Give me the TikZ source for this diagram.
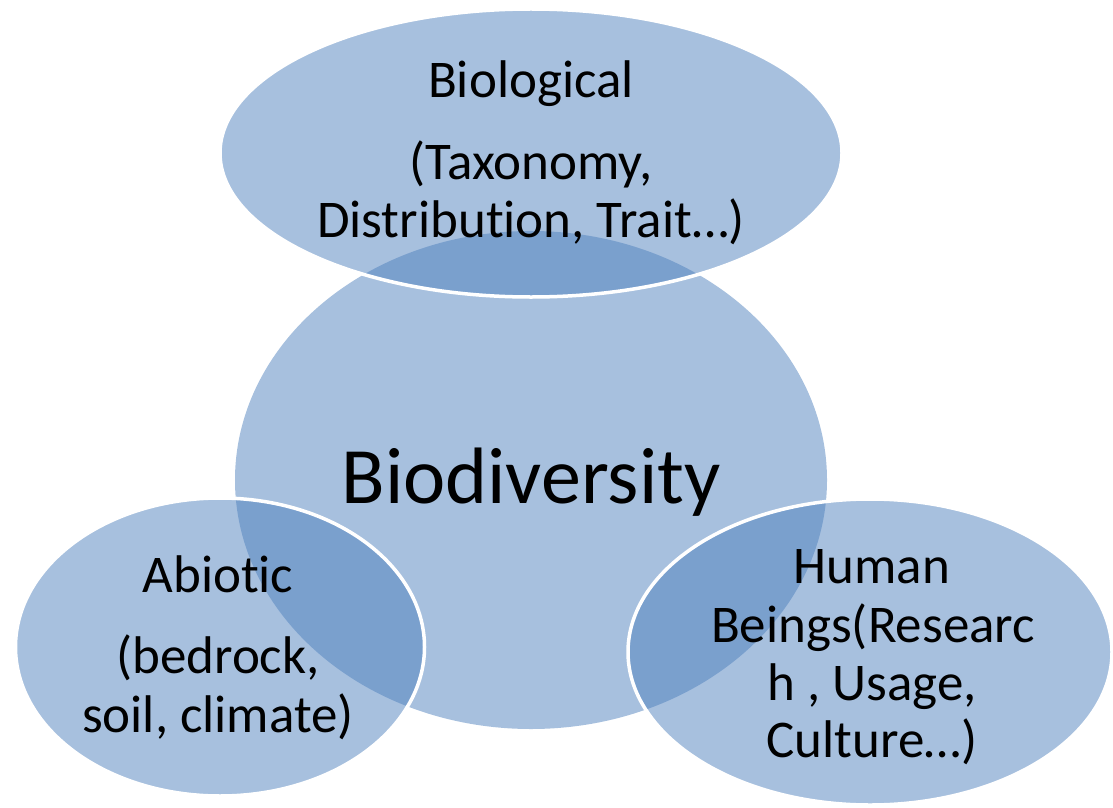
\documentclass[tikz,border=0pt]{standalone}
\usepackage{fontspec}
\setmainfont{Carlito}[Ligatures=CommonOff]
\usetikzlibrary{shapes.geometric}
\definecolor{venn}{HTML}{4F81BD}
\tikzset{
  blob/.style={ellipse, inner sep=0pt, fill=venn, fill opacity=0.5, draw=white, draw opacity=1, line width=3.5bp},
  core/.style={ellipse, inner sep=0pt, fill=venn, fill opacity=0.5},
  lbl/.style={anchor=base, inner sep=0pt, text=black, font=\fontsize{53bp}{59bp}\selectfont},
  big/.style={anchor=base, inner sep=0pt, text=black, font=\fontsize{80bp}{90bp}\selectfont}
}
\begin{document}
\begin{tikzpicture}[x=1bp,y=-1bp]
\useasboundingbox (0,0) rectangle (1113,808);
\node[core, minimum width=592bp, minimum height=498bp] (core) at (531,480) {};
\node[blob, minimum width=622bp, minimum height=288bp] (bio) at (531,153) {};
\node[blob, minimum width=409bp, minimum height=298bp] (abio) at (220,647) {};
\node[blob, minimum width=484bp, minimum height=306bp] (human) at (870,652) {};
\node[big] (tcore) at (531,503) {Biodiversity};
\node[lbl] (tbio1) at (531,98) {Biological};
\node[lbl] (tbio2) at (531,179) {(Taxonomy,};
\node[lbl] (tbio3) at (531,237) {Distribution, Trait…)};
\node[lbl] (tab1) at (218,592) {Abiotic};
\node[lbl] (tab2) at (218,673) {(bedrock,};
\node[lbl] (tab3) at (218,732) {soil, climate)};
\node[lbl] (thu1) at (872,583) {Human};
\node[lbl] (thu2) at (873,642) {Beings(Researc};
\node[lbl] (thu3) at (872,700) {h , Usage,};
\node[lbl] (thu4) at (872,757) {Culture…)};
\end{tikzpicture}
\end{document}
